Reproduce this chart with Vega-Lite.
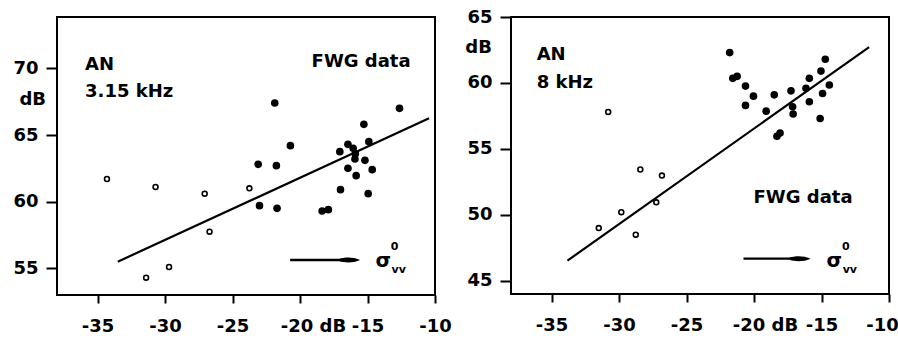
{
  "$schema": "https://vega.github.io/schema/vega-lite/v6.json",
  "background": "white",
  "padding": {"left": 11, "top": 7, "right": 0, "bottom": 2},
  "bounds": "flush",
  "spacing": 76,
  "config": {
    "view": {"stroke": "black", "strokeWidth": 2},
    "font": "DejaVu Sans",
    "axis": {"domain": false, "grid": false, "tickColor": "black", "tickWidth": 2, "labelColor": "black", "labelFont": "DejaVu Sans", "labelFontSize": 18, "labelFontWeight": "bold", "labelFlush": false, "labelOverlap": false, "title": null},
    "text": {"font": "DejaVu Sans", "fontSize": 18, "fontWeight": "bold", "color": "black"}
  },
  "datasets": {
    "left_fit": [{"x": -33.5, "y": 55.5}, {"x": -10.44, "y": 66.25}],
    "left_open": [
      {"x": -34.3, "y": 61.7}, {"x": -30.7, "y": 61.1}, {"x": -27.06, "y": 60.6}, {"x": -26.7, "y": 57.75},
      {"x": -31.4, "y": 54.3}, {"x": -29.7, "y": 55.1}, {"x": -23.75, "y": 61.0}
    ],
    "left_filled": [
      {"x": -23.1, "y": 62.8}, {"x": -23.0, "y": 59.7}, {"x": -21.87, "y": 67.4}, {"x": -21.75, "y": 62.7},
      {"x": -21.7, "y": 59.5}, {"x": -20.71, "y": 64.2}, {"x": -18.36, "y": 59.3}, {"x": -17.9, "y": 59.4},
      {"x": -17.05, "y": 63.75}, {"x": -17.0, "y": 60.9}, {"x": -16.45, "y": 64.3}, {"x": -16.06, "y": 64.0},
      {"x": -15.9, "y": 63.6}, {"x": -15.93, "y": 63.2}, {"x": -16.45, "y": 62.5}, {"x": -15.84, "y": 61.95},
      {"x": -15.19, "y": 63.1}, {"x": -14.65, "y": 62.4}, {"x": -14.95, "y": 60.6}, {"x": -14.9, "y": 64.5},
      {"x": -15.27, "y": 65.8}, {"x": -12.63, "y": 67.0}
    ],
    "left_shaft": [{"x": -20.73, "x2": -16.6, "y": 55.62}],
    "left_head": [{"x": -16.32, "y": 55.62}],
    "left_text_l": [{"x": -35.92, "y": 70.25, "label": "AN"}, {"x": -35.92, "y": 68.24, "label": "3.15 kHz"}],
    "left_text_r": [{"x": -11.81, "y": 70.5, "label": "FWG data"}],
    "left_unit": [{"x": -39.8, "y": 67.6, "label": "dB"}],
    "left_sigma": [{"x": -13.83, "y": 55.54, "label": "σ"}],
    "left_small": [{"x": -13.0, "y": 56.6, "label": "0"}, {"x": -12.69, "y": 54.87, "label": "vv"}],
    "right_fit": [{"x": -33.82, "y": 46.53}, {"x": -11.47, "y": 62.72}],
    "right_open": [
      {"x": -31.5, "y": 49.0}, {"x": -30.8, "y": 57.8}, {"x": -29.83, "y": 50.2}, {"x": -28.76, "y": 48.5},
      {"x": -28.42, "y": 53.44}, {"x": -27.24, "y": 50.95}, {"x": -26.82, "y": 52.98}
    ],
    "right_filled": [
      {"x": -21.8, "y": 62.3}, {"x": -21.57, "y": 60.35}, {"x": -21.25, "y": 60.5}, {"x": -20.63, "y": 59.76},
      {"x": -20.04, "y": 59.0}, {"x": -20.63, "y": 58.3}, {"x": -19.1, "y": 57.86}, {"x": -18.5, "y": 59.1},
      {"x": -17.26, "y": 59.4}, {"x": -17.14, "y": 58.2}, {"x": -17.1, "y": 57.65}, {"x": -18.3, "y": 55.96},
      {"x": -18.07, "y": 56.2}, {"x": -15.9, "y": 60.35}, {"x": -16.15, "y": 59.6}, {"x": -15.9, "y": 58.57},
      {"x": -15.04, "y": 60.9}, {"x": -14.92, "y": 59.2}, {"x": -15.1, "y": 57.3}, {"x": -14.72, "y": 61.8},
      {"x": -14.42, "y": 59.84}
    ],
    "right_shaft": [{"x": -20.78, "x2": -16.9, "y": 46.68}],
    "right_head": [{"x": -16.58, "y": 46.68}],
    "right_text_l": [{"x": -36.1, "y": 62.1, "label": "AN"}, {"x": -36.1, "y": 60.0, "label": "8 kHz"}],
    "right_text_r": [{"x": -12.7, "y": 51.26, "label": "FWG data"}],
    "right_unit": [{"x": -40.4, "y": 62.67, "label": "dB"}],
    "right_sigma": [{"x": -14.05, "y": 46.47, "label": "σ"}],
    "right_small": [{"x": -13.2, "y": 47.53, "label": "0"}, {"x": -12.9, "y": 45.8, "label": "vv"}]
  },
  "hconcat": [
    {
      "width": 378,
      "height": 278,
      "layer": [
        {
          "data": {"name": "left_fit"},
          "mark": {"type": "line", "color": "black", "strokeWidth": 2.2},
          "encoding": {
            "x": {"field": "x", "type": "quantitative", "scale": {"domain": [-38, -10], "nice": false, "zero": false},
                  "axis": {"values": [-35, -30, -25, -20, -15, -10], "tickSize": 8, "labelPadding": 14,
                           "labelExpr": "'-' + abs(datum.value) + (datum.value == -20 ? ' dB' : '')",
                           "labelOffset": {"condition": {"test": "datum.value == -20", "value": 13}, "value": 0}}},
            "y": {"field": "y", "type": "quantitative", "scale": {"domain": [53, 73.85], "nice": false, "zero": false},
                  "axis": {"values": [55, 60, 65, 70], "tickSize": 11, "labelPadding": 8}}
          }
        },
        {
          "data": {"name": "left_open"},
          "mark": {"type": "point", "shape": "circle", "filled": false, "stroke": "black", "strokeWidth": 1.6, "size": 24, "opacity": 1},
          "encoding": {"x": {"field": "x", "type": "quantitative"}, "y": {"field": "y", "type": "quantitative"}}
        },
        {
          "data": {"name": "left_filled"},
          "mark": {"type": "circle", "color": "black", "size": 58, "opacity": 1},
          "encoding": {"x": {"field": "x", "type": "quantitative"}, "y": {"field": "y", "type": "quantitative"}}
        },
        {
          "data": {"name": "left_shaft"},
          "mark": {"type": "rule", "color": "black", "strokeWidth": 2.4},
          "encoding": {"x": {"field": "x", "type": "quantitative"}, "x2": {"field": "x2"}, "y": {"field": "y", "type": "quantitative"}}
        },
        {
          "data": {"name": "left_head"},
          "mark": {"type": "point", "filled": true, "color": "black", "opacity": 1, "size": 441,
                   "shape": "M -1 -0.1 C -0.5 -0.3 0.4 -0.3 1 0 C 0.4 0.3 -0.5 0.3 -1 0.1 Z"},
          "encoding": {"x": {"field": "x", "type": "quantitative"}, "y": {"field": "y", "type": "quantitative"}}
        },
        {
          "data": {"name": "left_text_l"},
          "mark": {"type": "text", "align": "left", "baseline": "middle"},
          "encoding": {"x": {"field": "x", "type": "quantitative"}, "y": {"field": "y", "type": "quantitative"}, "text": {"field": "label"}}
        },
        {
          "data": {"name": "left_text_r"},
          "mark": {"type": "text", "align": "right", "baseline": "middle"},
          "encoding": {"x": {"field": "x", "type": "quantitative"}, "y": {"field": "y", "type": "quantitative"}, "text": {"field": "label"}}
        },
        {
          "data": {"name": "left_unit"},
          "mark": {"type": "text", "align": "center", "baseline": "middle"},
          "encoding": {"x": {"field": "x", "type": "quantitative"}, "y": {"field": "y", "type": "quantitative"}, "text": {"field": "label"}}
        },
        {
          "data": {"name": "left_sigma"},
          "mark": {"type": "text", "align": "center", "baseline": "middle", "fontSize": 20},
          "encoding": {"x": {"field": "x", "type": "quantitative"}, "y": {"field": "y", "type": "quantitative"}, "text": {"field": "label"}}
        },
        {
          "data": {"name": "left_small"},
          "mark": {"type": "text", "align": "center", "baseline": "middle", "fontSize": 11},
          "encoding": {"x": {"field": "x", "type": "quantitative"}, "y": {"field": "y", "type": "quantitative"}, "text": {"field": "label"}}
        }
      ]
    },
    {
      "width": 378,
      "height": 277,
      "layer": [
        {
          "data": {"name": "right_fit"},
          "mark": {"type": "line", "color": "black", "strokeWidth": 2.2},
          "encoding": {
            "x": {"field": "x", "type": "quantitative", "scale": {"domain": [-38, -10], "nice": false, "zero": false},
                  "axis": {"values": [-35, -30, -25, -20, -15, -10], "tickSize": 8, "labelPadding": 14,
                           "labelExpr": "'-' + abs(datum.value) + (datum.value == -20 ? ' dB' : '')",
                           "labelOffset": {"condition": [{"test": "datum.value == -20", "value": 11}, {"test": "datum.value == -10", "value": -7}], "value": 0}}},
            "y": {"field": "y", "type": "quantitative", "scale": {"domain": [44, 65], "nice": false, "zero": false},
                  "axis": {"values": [45, 50, 55, 60, 65], "tickSize": 11, "labelPadding": 8}}
          }
        },
        {
          "data": {"name": "right_open"},
          "mark": {"type": "point", "shape": "circle", "filled": false, "stroke": "black", "strokeWidth": 1.6, "size": 24, "opacity": 1},
          "encoding": {"x": {"field": "x", "type": "quantitative"}, "y": {"field": "y", "type": "quantitative"}}
        },
        {
          "data": {"name": "right_filled"},
          "mark": {"type": "circle", "color": "black", "size": 58, "opacity": 1},
          "encoding": {"x": {"field": "x", "type": "quantitative"}, "y": {"field": "y", "type": "quantitative"}}
        },
        {
          "data": {"name": "right_shaft"},
          "mark": {"type": "rule", "color": "black", "strokeWidth": 2.4},
          "encoding": {"x": {"field": "x", "type": "quantitative"}, "x2": {"field": "x2"}, "y": {"field": "y", "type": "quantitative"}}
        },
        {
          "data": {"name": "right_head"},
          "mark": {"type": "point", "filled": true, "color": "black", "opacity": 1, "size": 441,
                   "shape": "M -1 -0.1 C -0.5 -0.3 0.4 -0.3 1 0 C 0.4 0.3 -0.5 0.3 -1 0.1 Z"},
          "encoding": {"x": {"field": "x", "type": "quantitative"}, "y": {"field": "y", "type": "quantitative"}}
        },
        {
          "data": {"name": "right_text_l"},
          "mark": {"type": "text", "align": "left", "baseline": "middle"},
          "encoding": {"x": {"field": "x", "type": "quantitative"}, "y": {"field": "y", "type": "quantitative"}, "text": {"field": "label"}}
        },
        {
          "data": {"name": "right_text_r"},
          "mark": {"type": "text", "align": "right", "baseline": "middle"},
          "encoding": {"x": {"field": "x", "type": "quantitative"}, "y": {"field": "y", "type": "quantitative"}, "text": {"field": "label"}}
        },
        {
          "data": {"name": "right_unit"},
          "mark": {"type": "text", "align": "center", "baseline": "middle"},
          "encoding": {"x": {"field": "x", "type": "quantitative"}, "y": {"field": "y", "type": "quantitative"}, "text": {"field": "label"}}
        },
        {
          "data": {"name": "right_sigma"},
          "mark": {"type": "text", "align": "center", "baseline": "middle", "fontSize": 20},
          "encoding": {"x": {"field": "x", "type": "quantitative"}, "y": {"field": "y", "type": "quantitative"}, "text": {"field": "label"}}
        },
        {
          "data": {"name": "right_small"},
          "mark": {"type": "text", "align": "center", "baseline": "middle", "fontSize": 11},
          "encoding": {"x": {"field": "x", "type": "quantitative"}, "y": {"field": "y", "type": "quantitative"}, "text": {"field": "label"}}
        }
      ]
    }
  ]
}
